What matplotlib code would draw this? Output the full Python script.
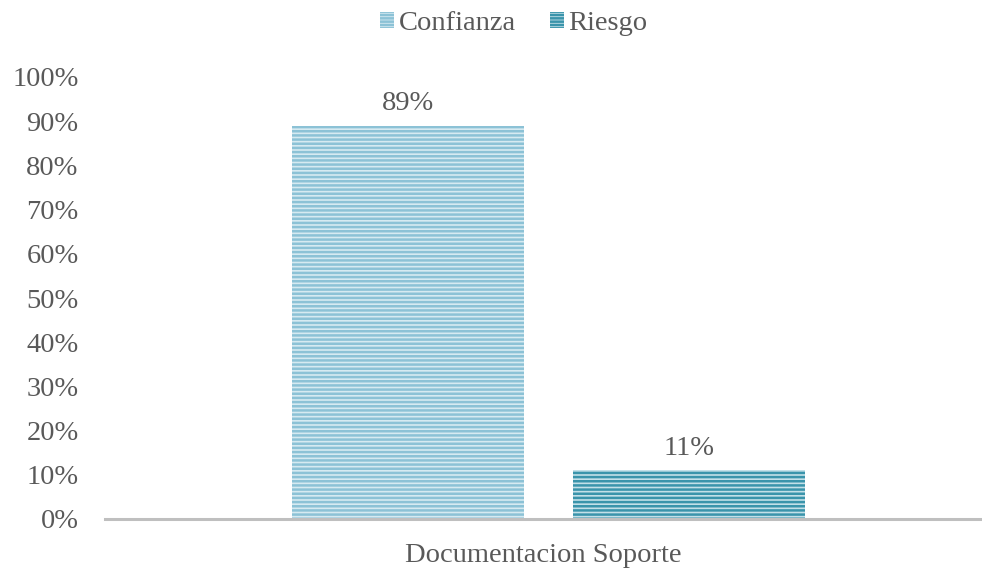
import numpy as np
import matplotlib.pyplot as plt
from matplotlib.patches import Patch

# datos
categorias = ["Documentacion Soporte"]
series = ["Confianza", "Riesgo"]
valores = [[0.89], [0.11]]
etiquetas = ["89%", "11%"]

plt.rcParams['font.family'] = ['Liberation Serif', 'DejaVu Serif']
plt.rcParams['hatch.linewidth'] = 1.8

gris = '#595959'
fondos = ['#d6eaf1', '#c3e0e8']
rayas = ['#8cc2d6', '#3a94ab']
fs = 20.5

fig = plt.figure(figsize=(9.82, 5.71), dpi=100)
ax = fig.add_axes([105/982, 1 - 519/571, 877/982, 442/571])

x = np.arange(len(categorias))
ancho = 0.2645
sep = 0.056
desp = [-(ancho + sep) / 2, (ancho + sep) / 2]

for i, s in enumerate(series):
    barras = ax.bar(x + desp[i] + 0.006, valores[i], width=ancho,
                    color=fondos[i], edgecolor=rayas[i], hatch='----',
                    linewidth=0, label=s)
    for b, t in zip(barras, [etiquetas[i]]):
        ax.annotate(t, (b.get_x() + b.get_width() / 2, b.get_height()),
                    xytext=(0, 7), textcoords='offset points',
                    ha='center', va='bottom', fontsize=fs, color=gris)

ax.set_xlim(-0.5, 0.5)
ax.set_ylim(0, 1.0)
ax.set_yticks(np.arange(0, 1.01, 0.1))
ax.set_yticklabels([f"{int(round(v*100))}%" for v in np.arange(0, 1.01, 0.1)])
ax.set_xticks(x)
ax.set_xticklabels(categorias)
ax.tick_params(axis='both', length=0, labelsize=fs, labelcolor=gris)
ax.tick_params(axis='y', pad=19)
ax.tick_params(axis='x', pad=17)

for lado in ['top', 'right', 'left']:
    ax.spines[lado].set_visible(False)
ax.spines['bottom'].set_color('#bfbfbf')
ax.spines['bottom'].set_linewidth(2.2)

manijas = [Patch(facecolor=fondos[i], edgecolor=rayas[i], hatch='-----', linewidth=0)
           for i in range(len(series))]
fig.legend(manijas, series, loc='upper center', bbox_to_anchor=(0.523, 1.025),
           ncol=2, frameon=False, fontsize=fs, labelcolor=gris,
           handlelength=0.5, handleheight=0.5, handletextpad=0.15,
           columnspacing=1.2)

fig.savefig('out.png', dpi=100)
